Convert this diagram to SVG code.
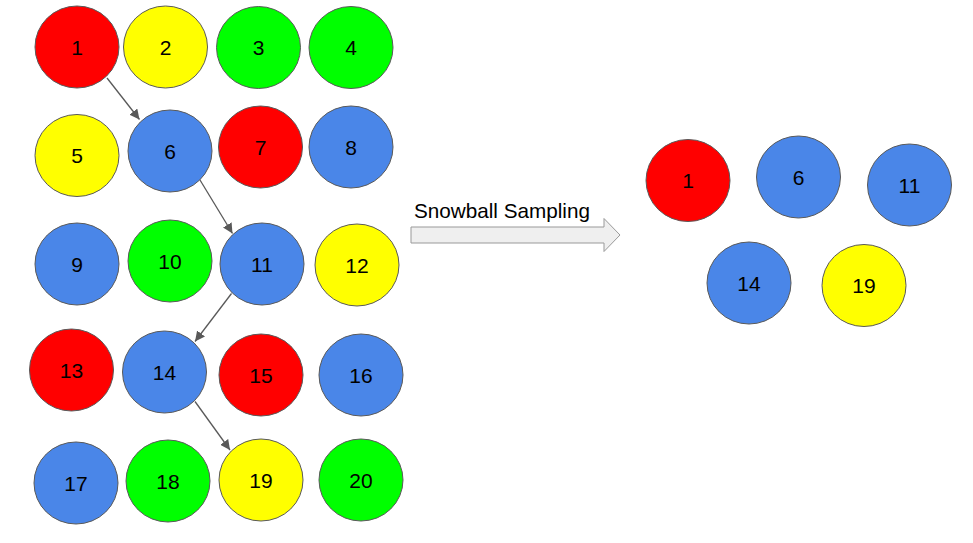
<svg xmlns="http://www.w3.org/2000/svg" width="973" height="543" viewBox="0 0 973 543">
<style>
.n ellipse{stroke:#595959;stroke-width:1}
.r{fill:#ff0000}.y{fill:#ffff00}.g{fill:#00ff00}.b{fill:#4a86e8}
text{font-family:"Liberation Sans",Arial,sans-serif;font-size:21px;fill:#000;text-anchor:middle}
.c line{stroke:#595959;stroke-width:1.3}
</style>
<defs>
<marker id="ah" viewBox="0 0 10 10" refX="10" refY="5" markerWidth="10" markerHeight="10" markerUnits="userSpaceOnUse" orient="auto">
<path d="M0,0 L10,5 L0,10 z" fill="#595959"/>
</marker>
</defs>
<rect width="973" height="543" fill="#fff"/>
<g class="n">
<g id="n1"><ellipse class="r" cx="77" cy="47" rx="42" ry="41"/><text x="77" y="54.5">1</text></g>
<g id="n2"><ellipse class="y" cx="165.5" cy="47" rx="42" ry="41"/><text x="165.5" y="54.5">2</text></g>
<g id="n3"><ellipse class="g" cx="258.5" cy="47.5" rx="42" ry="41"/><text x="258.5" y="55">3</text></g>
<g id="n4"><ellipse class="g" cx="351" cy="47.5" rx="42" ry="41"/><text x="351" y="55">4</text></g>
<g id="n5"><ellipse class="y" cx="77" cy="155.5" rx="42" ry="41"/><text x="77" y="163">5</text></g>
<g id="n6"><ellipse class="b" cx="170" cy="151" rx="42" ry="41"/><text x="170" y="158.5">6</text></g>
<g id="n7"><ellipse class="r" cx="260.5" cy="147" rx="42" ry="41"/><text x="260.5" y="154.5">7</text></g>
<g id="n8"><ellipse class="b" cx="351" cy="147" rx="42" ry="41"/><text x="351" y="154.5">8</text></g>
<g id="n9"><ellipse class="b" cx="77" cy="264" rx="42" ry="41"/><text x="77" y="271.5">9</text></g>
<g id="n10"><ellipse class="g" cx="170" cy="261" rx="42" ry="41"/><text x="170" y="268.5">10</text></g>
<g id="n11"><ellipse class="b" cx="262" cy="264" rx="42" ry="41"/><text x="262" y="271.5">11</text></g>
<g id="n12"><ellipse class="y" cx="357" cy="265" rx="42" ry="41"/><text x="357" y="272.5">12</text></g>
<g id="n13"><ellipse class="r" cx="71.5" cy="370" rx="42" ry="41"/><text x="71.5" y="377.5">13</text></g>
<g id="n14"><ellipse class="b" cx="164.5" cy="372" rx="42" ry="41"/><text x="164.5" y="379.5">14</text></g>
<g id="n15"><ellipse class="r" cx="261" cy="375" rx="42" ry="41"/><text x="261" y="382.5">15</text></g>
<g id="n16"><ellipse class="b" cx="361" cy="375" rx="42" ry="41"/><text x="361" y="382.5">16</text></g>
<g id="n17"><ellipse class="b" cx="76" cy="483" rx="42" ry="41"/><text x="76" y="490.5">17</text></g>
<g id="n18"><ellipse class="g" cx="168" cy="481" rx="42" ry="41"/><text x="168" y="488.5">18</text></g>
<g id="n19"><ellipse class="y" cx="261" cy="480" rx="42" ry="41"/><text x="261" y="487.5">19</text></g>
<g id="n20"><ellipse class="g" cx="361" cy="480" rx="42" ry="41"/><text x="361" y="487.5">20</text></g>
<g id="s1"><ellipse class="r" cx="688" cy="180.5" rx="42" ry="41"/><text x="688" y="188">1</text></g>
<g id="s6"><ellipse class="b" cx="798.5" cy="177" rx="42" ry="41"/><text x="798.5" y="184.5">6</text></g>
<g id="s11"><ellipse class="b" cx="909.5" cy="185" rx="42" ry="41"/><text x="909.5" y="192.5">11</text></g>
<g id="s14"><ellipse class="b" cx="749" cy="283" rx="42" ry="41"/><text x="749" y="290.5">14</text></g>
<g id="s19"><ellipse class="y" cx="864" cy="285.5" rx="42" ry="41"/><text x="864" y="293">19</text></g>
</g>
<g id="process-arrow">
<path d="M411,227 H604 V218.5 L620,235 L604,251.5 V243 H411 Z" fill="#efefef" stroke="#999" stroke-width="1"/>
<text x="502" y="218" style="font-size:20.7px">Snowball Sampling</text>
</g>
<g class="c">
<line x1="107" y1="78" x2="139.5" y2="119.5" marker-end="url(#ah)"/>
<line x1="200" y1="180" x2="232.5" y2="233.5" marker-end="url(#ah)"/>
<line x1="231.5" y1="293.5" x2="195" y2="341.5" marker-end="url(#ah)"/>
<line x1="195" y1="401.5" x2="230" y2="450" marker-end="url(#ah)"/>
</g>
</svg>
